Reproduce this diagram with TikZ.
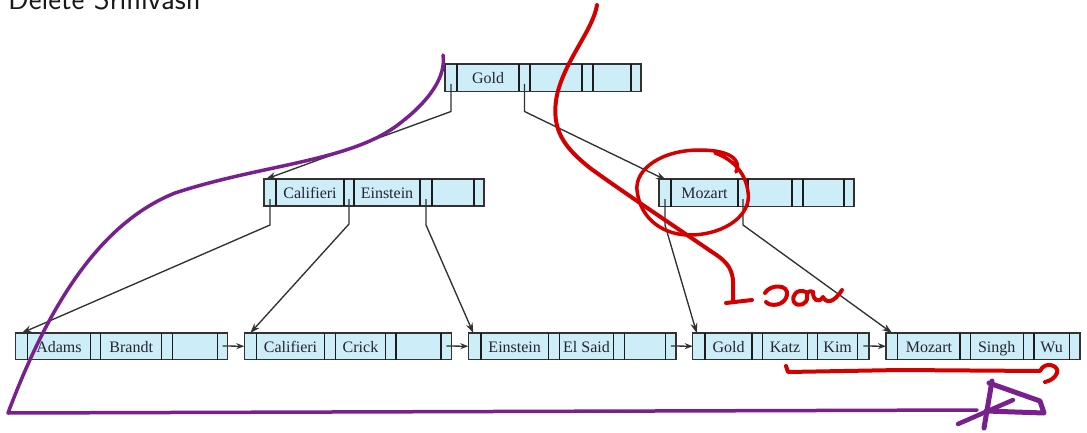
\documentclass[tikz,border=0pt]{standalone}
\usepackage{fontspec}
\setmainfont{Liberation Serif}
\usetikzlibrary{arrows.meta}
\definecolor{cellfill}{RGB}{205,237,248}
\definecolor{edgecol}{RGB}{50,50,50}
\definecolor{divcol}{RGB}{28,28,28}
\definecolor{keytext}{RGB}{35,38,48}
\definecolor{penred}{RGB}{212,0,0}
\definecolor{penpurple}{RGB}{120,32,142}
\tikzset{
  treebox/.style={draw=edgecol, fill=cellfill, line width=1.4pt, inner sep=0pt, outer sep=0pt, anchor=north west},
  divline/.style={draw=divcol, line width=1.5pt},
  keylabel/.style={font=\fontsize{16}{18}\selectfont, text=keytext, inner sep=0pt, anchor=base},
  ptrline/.style={draw=edgecol, line width=1.35pt, -{Stealth[length=10pt,width=7pt]}},
  chainline/.style={draw=edgecol, line width=1.3pt, -{Stealth[length=8pt,width=6pt]}},
  redpen/.style={draw=penred, line width=4pt, line cap=round, line join=round},
  purplepen/.style={draw=penpurple, line width=3.5pt, line cap=round, line join=round}
}
\newcommand\treenode[6]{%
  \node[treebox, minimum width={(#4-#2)*1pt}, minimum height={(#5-#3)*1pt}] (#1) at (#2,#3) {};
  \foreach \d in {#6} {\draw[divline] (\d,#3) -- (\d,#5);}
}
\begin{document}
\begin{tikzpicture}[x=1pt,y=-1pt]
\useasboundingbox (0,0) rectangle (1087,433);
\fill[white] (0,0) rectangle (1087,433);

% title
\node[anchor=base west, inner sep=0pt, font=\sffamily\fontsize{30.5}{32}\selectfont, text=black!90] (title) at (8,9.5) {Delete Srinivasn};

% root
\treenode{root}{445}{64}{641}{91.5}{457,519,530,582,593,631}
\node[keylabel] (kgold0) at (488,83.3) {Gold};

% internal nodes
\treenode{inA}{264}{179}{484}{206}{276,344,354,420,432,474}
\node[keylabel] (kcal0) at (310,198.3) {Califieri};
\node[keylabel] (kein0) at (387,198.3) {Einstein};

\treenode{inB}{659}{179}{854}{206.5}{671,738,748,792,803,844}
\node[keylabel] (kmoz0) at (704.5,198.3) {Mozart};

% leaves
\treenode{lfA}{15.7}{333}{227.7}{359.5}{27.3,90.7,100.7,161.7,172.3,217.7}
\node[keylabel] (kada) at (59,352) {Adams};
\node[keylabel] (kbra) at (131.2,352) {Brandt};

\treenode{lfB}{244.3}{333}{451.7}{359.5}{256.7,324.3,335.3,385.7,396,441}
\node[keylabel] (kcal1) at (290.5,352) {Califieri};
\node[keylabel] (kcri) at (360.5,352) {Crick};

\treenode{lfC}{468.3}{333}{676}{359.5}{481,548.3,559.3,613.7,624.3,665.7}
\node[keylabel] (kein1) at (514.7,352) {Einstein};
\node[keylabel] (kels) at (586.5,352) {El Said};

\treenode{lfD}{692.7}{333}{869}{359.5}{705,752,762.3,807.7,817.7,857.7}
\node[keylabel] (kgold1) at (728.5,352) {Gold};
\node[keylabel] (kkatz) at (785,352) {Katz};
\node[keylabel] (kkim) at (837.7,352) {Kim};

\treenode{lfE}{886}{333}{1080}{359.5}{897.7,960,970.3,1023.3,1034,1069.3}
\node[keylabel] (kmoz1) at (929,352) {Mozart};
\node[keylabel] (ksin) at (996.7,352) {Singh};
\node[keylabel] (kwu) at (1051.7,352) {Wu};

% pointer coordinates
\coordinate (rp0) at (451,84);   \coordinate (rb0) at (451,111.5);
\coordinate (rp1) at (524.5,84); \coordinate (rb1) at (524.5,111.5);
\coordinate (ap0) at (270,199);  \coordinate (ab0) at (270,225);
\coordinate (ap1) at (349,199);  \coordinate (ab1) at (349,224);
\coordinate (ap2) at (426,199);  \coordinate (ab2) at (426,225);
\coordinate (bp0) at (665,199);  \coordinate (bb0) at (665,225);
\coordinate (bp1) at (743,199);  \coordinate (bb1) at (743,225);

\draw[ptrline] (rp0) -- (rb0) -- ([xshift=2pt]inA.north west);
\draw[ptrline] (rp1) -- (rb1) -- ([xshift=7pt,yshift=-1pt]inB.north west);
\draw[ptrline] (ap0) -- (ab0) -- ([xshift=6pt]lfA.north west);
\draw[ptrline] (ap1) -- (ab1) -- ([xshift=6pt]lfB.north west);
\draw[ptrline] (ap2) -- (ab2) -- ([xshift=5pt]lfC.north west);
\draw[ptrline] (bp0) -- (bb0) -- ([xshift=4pt]lfD.north west);
\draw[ptrline] (bp1) -- (bb1) -- ([xshift=6pt]lfE.north west);

% leaf chain
\coordinate (ca) at (222.7,346);
\coordinate (cb) at (446.3,346);
\coordinate (cc) at (670.8,346);
\coordinate (cd) at (863.3,346);
\draw[chainline] (ca) -- (lfB.west);
\draw[chainline] (cb) -- (lfC.west);
\draw[chainline] (cc) -- (lfD.west);
\draw[chainline] (cd) -- (lfE.west);

% ---- handwritten annotations ----
% purple
\draw[purplepen] (443,55) .. controls (446,75) and (432,100) .. (395,127)
  .. controls (345,162) and (260,165) .. (175,193)
  .. controls (95,225) and (45,315) .. (8,413)
  -- (977,410);
\draw[purplepen, line width=5pt] (992,381) -- (984,428);
\draw[purplepen, line width=5pt] (989,383) -- (1040,401) -- (1044,413) -- (986,411);
\draw[purplepen, line width=4.5pt] (958,424) -- (1013,400);

% red
\draw[redpen] (597,5) .. controls (593,30) and (565,60) .. (557,95)
  .. controls (550,130) and (565,148) .. (590,168)
  .. controls (620,190) and (680,230) .. (712,252)
  .. controls (728,262) and (734,270) .. (733,288) -- (733,300);
\draw[redpen] (726,303) -- (752,300);
\draw[redpen] (765,293) .. controls (770,284) and (789,284) .. (787,295)
  .. controls (785,306) and (770,307) .. (766,302);
\draw[redpen] (806,292) .. controls (797,288) and (791,296) .. (794,302)
  .. controls (798,308) and (808,304) .. (807,297) .. controls (806,292) and (810,290) .. (813,292);
\draw[redpen] (813,292) .. controls (813,300) and (818,304) .. (823,297)
  .. controls (826,303) and (833,304) .. (842,290);
\draw[redpen, line width=3.5pt] (736,172) .. controls (742,160) and (730,150) .. (700,150)
  .. controls (660,150) and (635,170) .. (637,190)
  .. controls (640,220) and (665,236) .. (692,235)
  .. controls (725,234) and (752,215) .. (748,192)
  .. controls (746,175) and (735,160) .. (715,153);
\draw[redpen] (786,366) -- (788,372) -- (900,370) -- (1040,371)
  .. controls (1045,360) and (1060,366) .. (1057,373)
  .. controls (1055,378) and (1050,381) .. (1045,382);
\end{tikzpicture}
\end{document}
